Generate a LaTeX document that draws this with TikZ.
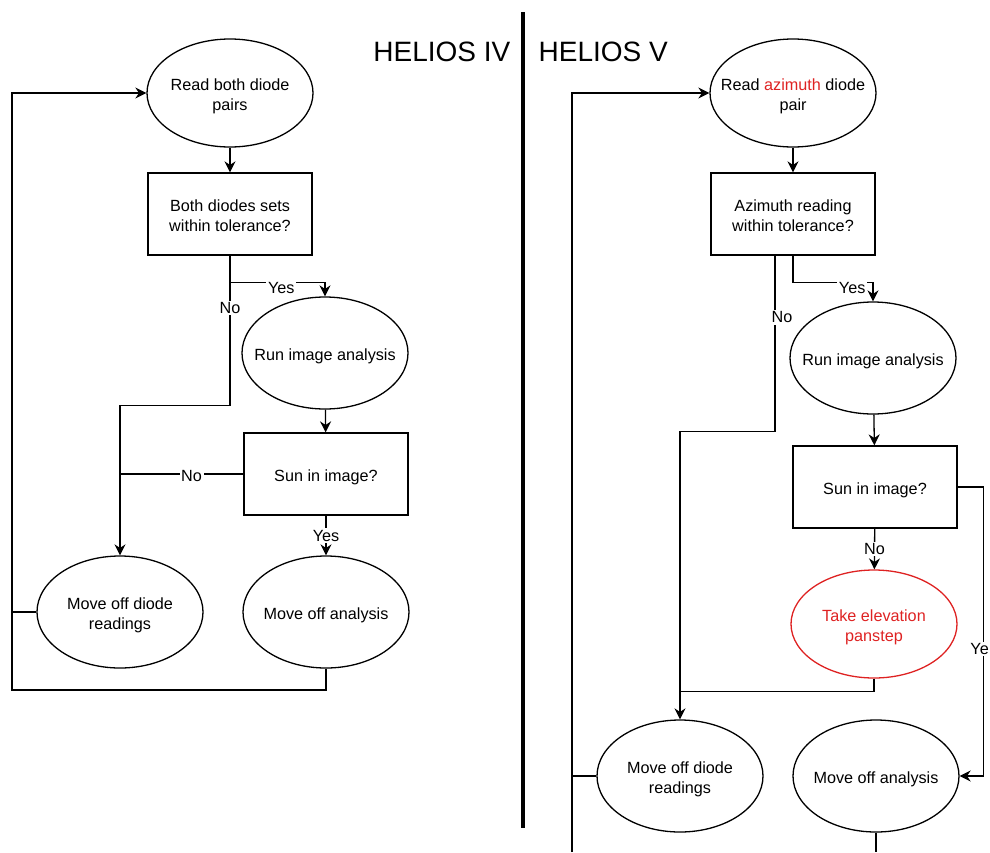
\documentclass[tikz,border=0pt]{standalone}
\usepackage{fontspec}
\setmainfont{Liberation Sans}
\usetikzlibrary{arrows.meta,calc,shapes.geometric}
\definecolor{alertred}{RGB}{222,34,34}
% text set in a zero-width box, so each shape keeps its given size;
% the contents sit a little lower than the box's centre
\newcommand{\boxtext}[1]{\raisebox{-1.6pt}[\height][\depth]{\makebox[0pt][c]{\begin{tabular}{@{}c@{}}#1\end{tabular}}}}
\begin{document}
\begin{tikzpicture}[x=0.5pt,y=-0.5pt,
  line width=0.65pt,
  every node/.style={font=\fontsize{8.1}{10}\selectfont, align=center, inner sep=0pt},
  oval/.style={draw, ellipse, minimum width=83pt, minimum height=56pt},
  decision/.style={draw, rectangle, minimum width=82pt, minimum height=41pt},
  arr/.style={-{Stealth[length=5.5pt,width=5.5pt,inset=1.8pt]}},
  lbl/.style={fill=white, inner sep=0.8pt},
  title/.style={font=\fontsize{14}{16}\selectfont}]
\useasboundingbox (0,0) rectangle (990,852);

% headings and divider
\node[title, anchor=east] (h4) at (511,52) {HELIOS IV};
\node[title, anchor=west] (h5) at (538,52) {HELIOS V};
\draw[line width=2.3pt] (523,12) -- (523,828);

% ---------------- HELIOS IV ----------------
\node[oval, minimum height=54pt] (r1) at (230,93) {\boxtext{Read both diode\\pairs}};
\node[decision] (b1) at (230,214) {\boxtext{Both diodes sets\\within tolerance?}};
\node[oval] (a1) at (325,353) {\boxtext{Run image analysis}};
\node[decision] (s1) at (326,474) {\boxtext{Sun in image?}};
\node[oval] (md1) at (120,612) {\boxtext{Move off diode\\readings}};
\node[oval] (ma1) at (326,612) {\boxtext{Move off analysis}};
\coordinate (lb1) at (12,690);

\draw[arr] (r1) -- (b1);
\draw[arr] (b1.south) |- node[lbl,pos=0.77,yshift=-3pt]{Yes} ($(a1.north)+(0,-14)$) -- (a1.north);
\draw[arr] (b1.south) -- node[lbl,pos=0.35]{No} ++(0,150) -| (md1.north);
\draw[arr] (a1) -- (s1);
\draw (s1.west) -- node[lbl,pos=0.42,yshift=-1.2pt]{No} (md1.north |- s1.west);
\draw[arr] (s1) -- node[lbl]{Yes} (ma1);
\draw[arr] (ma1.south) |- (lb1) |- (r1.west);
\draw (md1.west) -- (lb1 |- md1.west);

% ---------------- HELIOS V ----------------
\node[oval, minimum height=54pt] (r2) at (793,93) {\boxtext{Read \textcolor{alertred}{azimuth} diode\\pair}};
\node[decision] (b2) at (793,214) {\boxtext{Azimuth reading\\within tolerance?}};
\node[oval] (a2) at (873,358) {\boxtext{Run image analysis}};
\node[decision] (s2) at (875,487) {\boxtext{Sun in image?}};
\node[oval, minimum height=54pt, draw=alertred, text=alertred] (t2) at (874,624) {\boxtext{Take elevation\\panstep}};
\node[oval] (md2) at (680,776) {\boxtext{Move off diode\\readings}};
\node[oval] (ma2) at (876,776) {\boxtext{Move off analysis}};
\coordinate (lb2) at (572,852);
\coordinate (rb2) at (876,852);

\draw[arr] (r2) -- (b2);
\draw[arr] ([xshift=-9pt]b2.south) -- node[lbl,pos=0.35,xshift=3.5pt]{No} ++(0,176) -| (md2.north);
\draw[arr] (b2.south) |- node[lbl,pos=0.87,yshift=-3pt]{Yes} ($(a2.north)+(0,-19)$) -- (a2.north);
\draw[arr] (a2) -- (s2);
\draw[arr] (s2.east) -- ++(26,0) |- node[lbl,pos=0.28,xshift=-2pt]{Ye} (ma2.east);
\draw[arr] (s2) -- node[lbl]{No} (t2);
\draw (t2.south) |- ($(md2.north)+(0,-28)$);
\draw[arr] (lb2) |- (r2.west);
\draw (md2.west) -- (lb2 |- md2.west);
\draw (ma2.south) -- (rb2);
\end{tikzpicture}
\end{document}
